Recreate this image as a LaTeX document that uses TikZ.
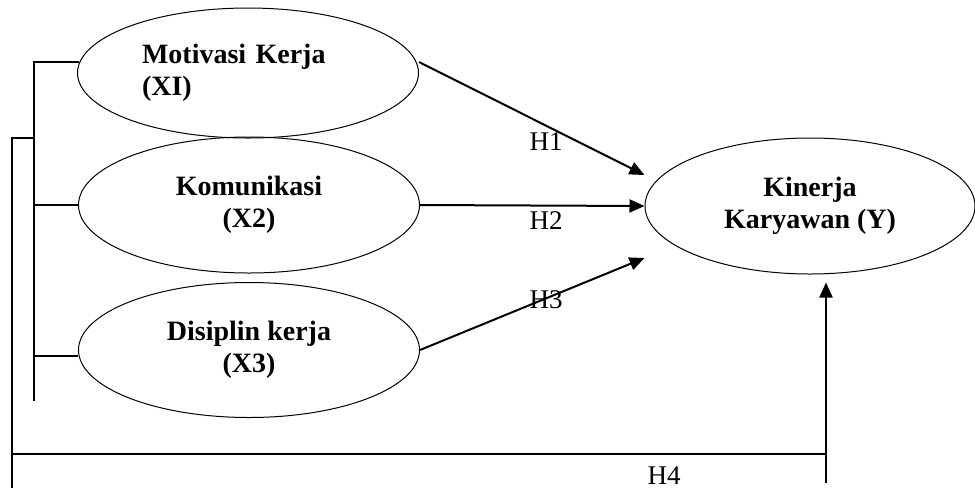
\documentclass[tikz,border=0pt]{standalone}
\usepackage{fontspec}
\setmainfont{Liberation Serif}
\usetikzlibrary{shapes.geometric,arrows.meta,calc}

\begin{document}
\begin{tikzpicture}[x=0.5pt,y=-0.5pt,
    var/.style={draw, ellipse, line width=0.5pt, inner sep=0pt, align=center, font=\fontsize{14}{16}\selectfont\bfseries},
    arr/.style={-{Triangle[length=7.5pt,width=6.5pt]}, line width=1pt},
    hyp/.style={font=\fontsize{13.5}{16}\selectfont},
    brk/.style={line width=0.8pt}]
    \useasboundingbox (0,0) rectangle (975,489);

    % Variables
    \node[var, minimum width=170.5pt, minimum height=65pt, text width=106pt, align=left] (mot) at (248,73) {Motivasi Kerja\\(XI)};
    \node[var, minimum width=170.5pt, minimum height=68pt] (kom) at (249,205) {Komunikasi\\(X2)};
    \node[var, minimum width=170.5pt, minimum height=67.5pt] (dis) at (249,350) {Disiplin kerja\\(X3)};
    \node[var, minimum width=165pt, minimum height=68pt] (kin) at (810,206) {Kinerja\\Karyawan (Y)};

    % Hypotheses
    \draw[arr] ($(mot.east)+(0,-11)$) -- ($(kin.west)+(0,-31)$);
    \draw[arr] (kom.east) -- (kin.west);
    \draw[arr] (dis.east) -- ($(kin.west)+(0,52)$);
    \node[hyp] (h1) at (546,142) {H1};
    \node[hyp] (h2) at (546,221) {H2};
    \node[hyp] (h3) at (546,300) {H3};
    \node[hyp] (h4) at (664,476) {H4};

    % Brackets
    \coordinate (inntop) at (34,62);
    \coordinate (innbot) at (34,401);
    \coordinate (outtop) at (12,138);
    \coordinate (outbot) at (12,488);
    \coordinate (t3) at ($(dis.west)+(0,6)$);
    \draw[brk] (innbot) -- (inntop) -- ($(mot.west)+(2,-11)$);
    \draw[brk] (kom.west) -- (kom.west -| inntop);
    \draw[brk] (t3) -- (t3 -| inntop);
    \draw[brk] (outtop -| inntop) -- (outtop) -- (outbot);

    % H4 path
    \coordinate (h4foot) at (826,483);
    \coordinate (h4corner) at (826,454);
    \draw[brk] (h4corner -| outtop) -- (h4corner);
    \draw[arr] (h4foot) -- ($(kin.south)+(16,8)$);
\end{tikzpicture}
\end{document}
